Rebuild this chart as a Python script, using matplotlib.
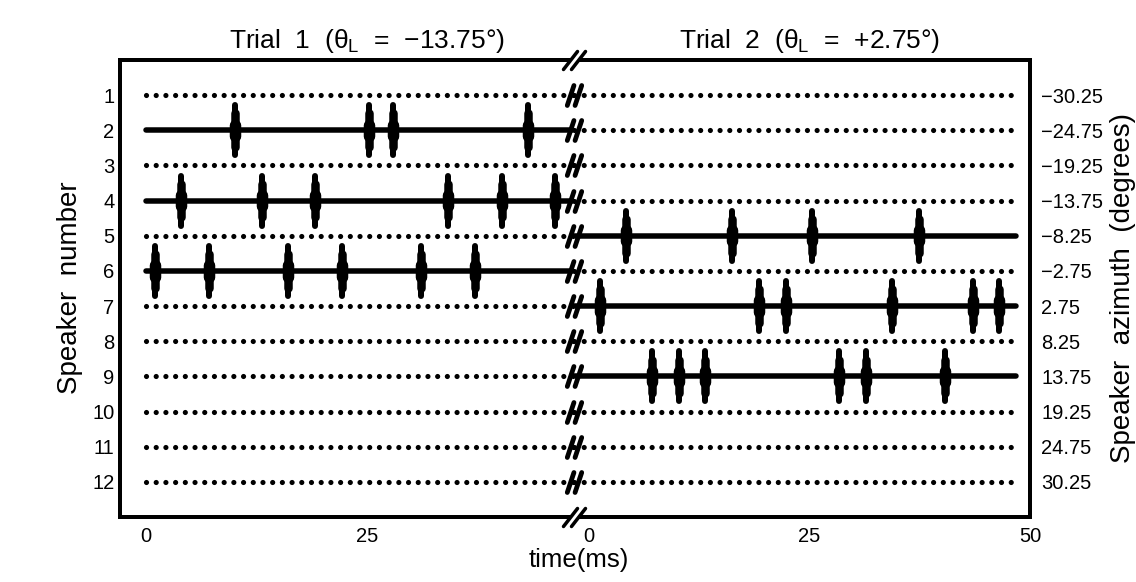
import numpy as np
import matplotlib
matplotlib.use("Agg")
import matplotlib.pyplot as plt
import matplotlib.transforms as mtransforms
from matplotlib.path import Path
from matplotlib.markers import MarkerStyle

# ---------------- data ----------------
speakers = list(range(1, 13))
speaker_labels = [str(s) for s in speakers]
azimuth_labels = ["−30.25", "−24.75", "−19.25", "−13.75", "−8.25", "−2.75",
                  "2.75", "8.25", "13.75", "19.25", "24.75", "30.25"]

trial1_title = r"Trial  1  ($\theta_L$  =  −13.75°)"
trial2_title = r"Trial  2  ($\theta_L$  =  +2.75°)"

# pulse times (ms) for the active speakers of each trial
trial1_speakers = [2, 4, 6]
trial1_spk2 = [10.1, 25.2, 28.0, 43.3]
trial1_spk4 = [4.0, 13.1, 19.1, 34.2, 40.3, 46.3]
trial1_spk6 = [1.0, 7.1, 16.1, 22.2, 31.2, 37.3]

trial2_speakers = [5, 7, 9]
trial2_spk5 = [4.2, 16.2, 25.3, 37.4]
trial2_spk7 = [1.2, 19.3, 22.3, 34.4, 43.5, 46.5]
trial2_spk9 = [7.2, 10.2, 13.2, 28.3, 31.4, 40.4]

left_xticks = [0, 25]
right_xticks = [0, 25, 50]

trial1 = dict(zip(trial1_speakers, [trial1_spk2, trial1_spk4, trial1_spk6]))
trial2 = dict(zip(trial2_speakers, [trial2_spk5, trial2_spk7, trial2_spk9]))

# ---------------- style ----------------
plt.rcParams["font.family"] = ["Liberation Sans", "DejaVu Sans"]
plt.rcParams["mathtext.fontset"] = "custom"
plt.rcParams["mathtext.rm"] = "Liberation Sans"
plt.rcParams["mathtext.it"] = "Liberation Sans"
plt.rcParams["mathtext.default"] = "regular"

W, H = 1136, 582
fig = plt.figure(figsize=(W / 100, H / 100), dpi=100)

ax_left_px, ax_break_px, ax_right_px = 120, 574, 1030
ax_top_px, ax_bot_px = 60, 517
px_per_ms = 8.83
zero_left_px, zero_right_px = 146, 589

def rect(x0, x1):
    return [x0 / W, (H - ax_bot_px) / H, (x1 - x0) / W, (ax_bot_px - ax_top_px) / H]

axL = fig.add_axes(rect(ax_left_px, ax_break_px))
axR = fig.add_axes(rect(ax_break_px, ax_right_px))

axL.set_xlim((ax_left_px - zero_left_px) / px_per_ms, (ax_break_px - zero_left_px) / px_per_ms)
axR.set_xlim((ax_break_px - zero_right_px) / px_per_ms, (ax_right_px - zero_right_px) / px_per_ms)
for ax in (axL, axR):
    ax.set_ylim(13, 0)

PX = 0.72  # points per pixel at 100 dpi
solid_lw = 5.5 * PX
dot_px = 5.2
dot_lw = dot_px * PX
dot_style = (0, (0.001, 9.7 / dot_px))


def draw_trial(ax, pulses, x0, x1_dot, x1_solid):
    for s in speakers:
        if s in pulses:
            ax.plot([x0, x1_solid], [s, s], color="black", lw=solid_lw,
                    solid_capstyle="round", zorder=3)
            t = pulses[s]
            ax.vlines(t, s - 0.71, s + 0.71, color="black", lw=6 * PX,
                      capstyle="round", zorder=4)
            ax.vlines(t, s - 0.48, s + 0.48, color="black", lw=8.5 * PX,
                      capstyle="round", zorder=4)
            ax.vlines(t, s - 0.16, s + 0.16, color="black", lw=11.5 * PX,
                      capstyle="round", zorder=4)
        else:
            ax.plot([x0, x1_dot], [s, s], color="black", lw=dot_lw,
                    linestyle=dot_style, dash_capstyle="round", zorder=3)


draw_trial(axL, trial1, 0, axL.get_xlim()[1], axL.get_xlim()[1])
draw_trial(axR, trial2, axR.get_xlim()[0], 48.1, 48.4)

# spines
for ax in (axL, axR):
    for sp in ax.spines.values():
        sp.set_linewidth(4 * PX)
axL.spines["right"].set_visible(False)
axR.spines["left"].set_visible(False)

# ticks
axL.set_yticks(speakers)
axL.set_yticklabels(speaker_labels)
axL.set_xticks(left_xticks)
axL.set_xticklabels([str(v) for v in left_xticks])
axL.tick_params(axis="y", length=0, pad=4, labelsize=14.5)
axL.tick_params(axis="x", length=0, pad=7, labelsize=14.5)

axR.yaxis.tick_right()
axR.set_yticks(speakers)
axR.set_yticklabels(azimuth_labels)
axR.set_xticks(right_xticks)
axR.set_xticklabels([str(v) for v in right_xticks])
axR.tick_params(axis="y", length=0, pad=8, labelsize=14.5, left=False, right=False)
axR.tick_params(axis="x", length=0, pad=7, labelsize=14.5)

# titles
tL = mtransforms.blended_transform_factory(axL.transData, axL.transAxes)
tR = mtransforms.blended_transform_factory(axR.transData, axR.transAxes)
ty = (ax_bot_px - 48) / (ax_bot_px - ax_top_px)
axL.text(25, ty, trial1_title, transform=tL, ha="center", va="baseline", fontsize=19)
axR.text(25, ty, trial2_title, transform=tR, ha="center", va="baseline", fontsize=19)

# axis labels
fig.text(579 / W, 1 - 567 / H, "time(ms)", ha="center", va="baseline", fontsize=18.5)
fig.text(70 / W, 1 - 288 / H, "Speaker  number", rotation=90, ha="center",
         va="center", fontsize=20)
fig.text(1123 / W, 1 - 288 / H, "Speaker  azimuth  (degrees)", rotation=90,
         ha="center", va="center", fontsize=20)

# break marks
row_path = Path([(-6.5, -9), (-0.5, 9), (0.5, -9), (6.5, 9)],
                [Path.MOVETO, Path.LINETO, Path.MOVETO, Path.LINETO])
row_marker = MarkerStyle(row_path, capstyle="round")
spine_path = Path([(-11, -9), (3, 9), (-3, -9), (11, 9)],
                  [Path.MOVETO, Path.LINETO, Path.MOVETO, Path.LINETO])
spine_marker = MarkerStyle(spine_path, capstyle="round")
gap_path = Path([(-11, -9), (-3, -9), (11, 9), (3, 9), (-11, -9)],
                [Path.MOVETO, Path.LINETO, Path.LINETO, Path.LINETO, Path.CLOSEPOLY])

xb = axR.get_xlim()[0]
axR.plot([xb] * len(speakers), speakers, linestyle="none", marker=row_marker,
         ms=20 * PX, mew=4.8 * PX, mfc="none", mec="black", clip_on=False, zorder=6)
axR.plot([xb, xb], [0, 13], linestyle="none", marker=gap_path, ms=22 * PX,
         mfc="white", mec="none", clip_on=False, zorder=6)
axR.plot([xb, xb], [0, 13], linestyle="none", marker=spine_marker, ms=22 * PX,
         mew=3.5 * PX, mfc="none", mec="black", clip_on=False, zorder=7)

fig.savefig("out.png", dpi=100)
